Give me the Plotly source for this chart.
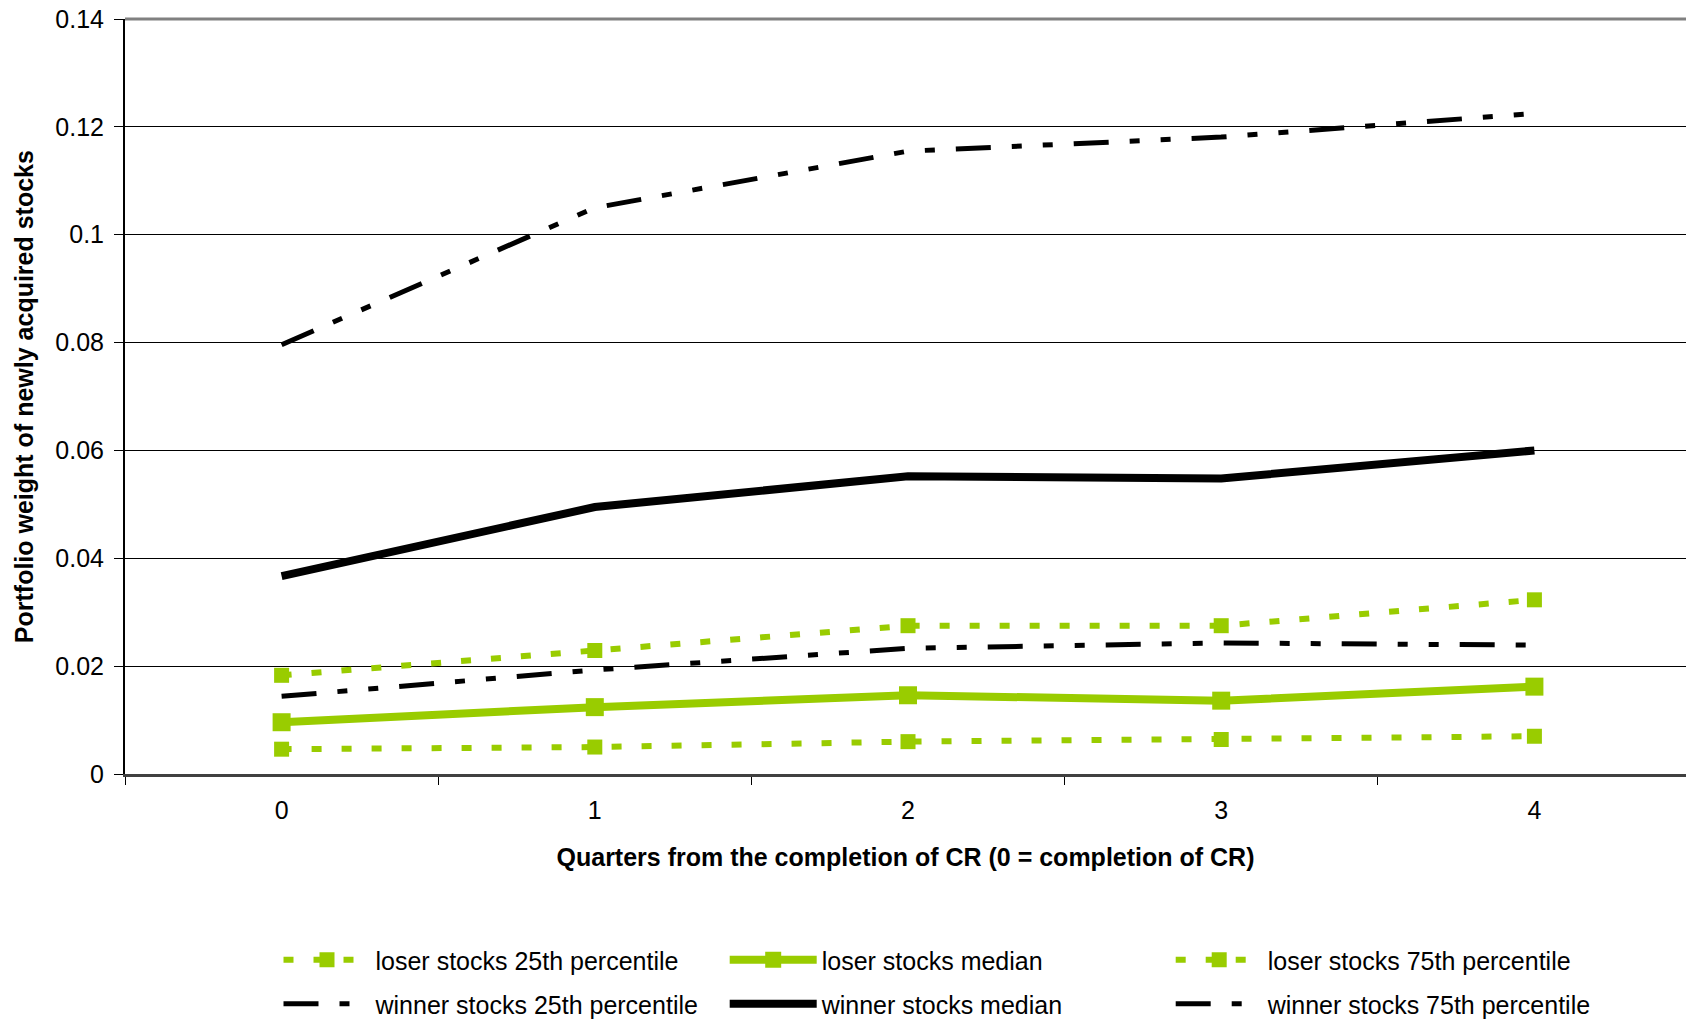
import plotly.graph_objects as go

quarters = ["0", "1", "2", "3", "4"]

loser_p25 = [0.0046, 0.0050, 0.0060, 0.0064, 0.0070]
loser_median = [0.0096, 0.0124, 0.0146, 0.0136, 0.0162]
loser_p75 = [0.0183, 0.0229, 0.0275, 0.0275, 0.0323]
winner_p25 = [0.0144, 0.0193, 0.0233, 0.0243, 0.0239]
winner_median = [0.0367, 0.0495, 0.0552, 0.0548, 0.0600]
winner_p75 = [0.0796, 0.1050, 0.1155, 0.1181, 0.1225]

GREEN = "#99CC00"
BLACK = "#000000"
FONT = "Arial, Liberation Sans, sans-serif"
FS = 25
WD = "35px,21px,10px,21px,10px,21px"

fig = go.Figure()

fig.add_trace(go.Scatter(x=quarters, y=loser_p25, name="loser stocks 25th percentile",
                         mode="lines+markers", legend="legend",
                         line=dict(color=GREEN, width=6, dash="10px,20px"),
                         marker=dict(symbol="square", size=15, color=GREEN)))
fig.add_trace(go.Scatter(x=quarters, y=loser_median, name="loser stocks median",
                         mode="lines+markers", legend="legend2",
                         line=dict(color=GREEN, width=8),
                         marker=dict(symbol="square", size=18, color=GREEN)))
fig.add_trace(go.Scatter(x=quarters, y=loser_p75, name="loser stocks 75th percentile",
                         mode="lines+markers", legend="legend3",
                         line=dict(color=GREEN, width=6, dash="10px,20px"),
                         marker=dict(symbol="square", size=15, color=GREEN)))
fig.add_trace(go.Scatter(x=quarters, y=winner_p25, name="winner stocks 25th percentile",
                         mode="lines", legend="legend4",
                         line=dict(color=BLACK, width=5, dash=WD)))
fig.add_trace(go.Scatter(x=quarters, y=winner_median, name="winner stocks median",
                         mode="lines", legend="legend5",
                         line=dict(color=BLACK, width=8)))
fig.add_trace(go.Scatter(x=quarters, y=winner_p75, name="winner stocks 75th percentile",
                         mode="lines", legend="legend6",
                         line=dict(color=BLACK, width=5, dash=WD)))

PLOT_L, PLOT_R, PLOT_T, PLOT_B = 125, 1686, 19, 774


def leg(xpx, ypx):
    return dict(orientation="h", xref="container", yref="paper",
                x=xpx / 1686, y=(PLOT_B - ypx) / (PLOT_B - PLOT_T),
                xanchor="left", yanchor="middle", itemwidth=87,
                font=dict(family=FONT, size=FS, color="#000000"),
                bgcolor="rgba(0,0,0,0)", borderwidth=0)


cols = [278.5, 724.7, 1170.7]
rows = [960, 1004]

fig.update_layout(
    width=1686, height=1019,
    margin=dict(l=PLOT_L, r=0, t=PLOT_T, b=1019 - PLOT_B, autoexpand=False),
    paper_bgcolor="white", plot_bgcolor="white",
    font=dict(family=FONT, size=FS, color="#000000"),
    legend=leg(cols[0], rows[0]),
    legend2=leg(cols[1], rows[0]),
    legend3=leg(cols[2], rows[0]),
    legend4=leg(cols[0], rows[1]),
    legend5=leg(cols[1], rows[1]),
    legend6=leg(cols[2], rows[1]),
    xaxis=dict(type="category", range=[-0.5, 4.484], tickson="boundaries",
               ticks="outside", ticklen=8, tickwidth=1, tickcolor="#000000",
               showgrid=False, showline=True, linecolor="#404040", linewidth=3,
               ticklabelstandoff=12,
               title=dict(text="<b>Quarters from the completion of CR (0 = completion of CR)</b>",
                          font=dict(family=FONT, size=FS), standoff=26)),
    yaxis=dict(range=[0, 0.14], dtick=0.02, tick0=0,
               ticks="outside", ticklen=9, tickwidth=1, tickcolor="#000000",
               showgrid=True, gridcolor="#000000", gridwidth=1,
               zeroline=False, showline=True, linecolor="#000000", linewidth=2,
               ticklabelstandoff=5),
    annotations=[dict(text="<b>Portfolio weight of newly acquired stocks</b>",
                      textangle=-90, xref="paper", yref="paper",
                      x=(23.7 - PLOT_L) / (PLOT_R - PLOT_L), y=0.5,
                      xanchor="center", yanchor="middle", showarrow=False,
                      font=dict(family=FONT, size=FS, color="#000000"))],
    shapes=[dict(type="line", xref="paper", yref="paper", x0=0, x1=1, y0=1, y1=1,
                 line=dict(color="#808080", width=3), layer="above")],
    showlegend=True,
)

fig.write_html("out.html")
